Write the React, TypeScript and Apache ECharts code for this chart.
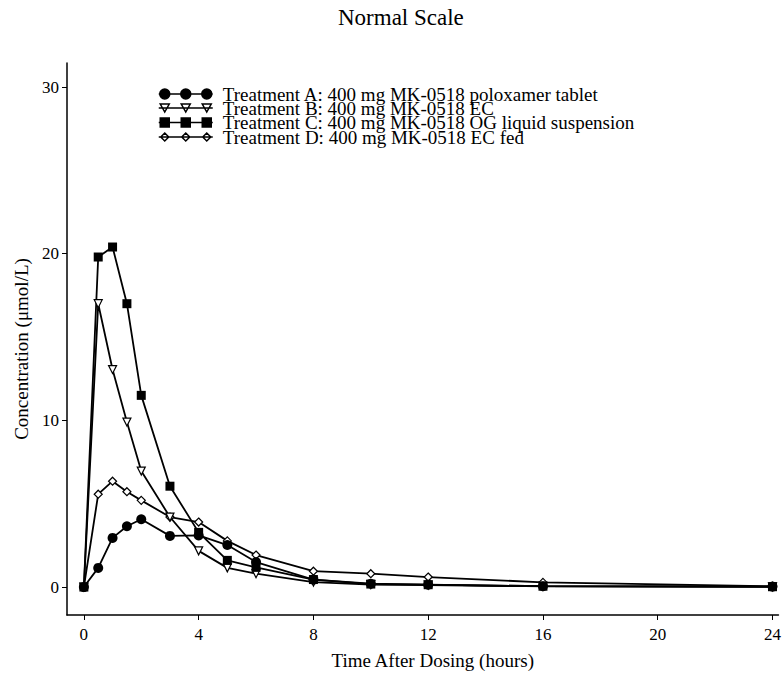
import React, { useEffect, useRef } from "react";
import * as echarts from "echarts";

const timeHours = [0, 0.5, 1, 1.5, 2, 3, 4, 5, 6, 8, 10, 12, 16, 24];
const treatmentA = [0, 1.15, 2.95, 3.65, 4.07, 3.07, 3.1, 2.52, 1.5, 0.45, 0.2, 0.14, 0.05, 0.03];
const treatmentB = [0, 17.0, 13.05, 9.9, 6.96, 4.2, 2.17, 1.15, 0.8, 0.3, 0.15, 0.12, 0.04, 0.01];
const treatmentC = [0, 19.8, 20.4, 17.0, 11.5, 6.05, 3.28, 1.6, 1.18, 0.45, 0.18, 0.14, 0.05, 0.02];
const treatmentD = [0, 5.57, 6.35, 5.72, 5.2, 4.2, 3.9, 2.77, 1.92, 0.95, 0.8, 0.6, 0.28, 0.05];

const seriesNames = [
  "Treatment A: 400 mg MK-0518 poloxamer tablet",
  "Treatment B: 400 mg MK-0518 EC",
  "Treatment C: 400 mg MK-0518 OG liquid suspension",
  "Treatment D: 400 mg MK-0518 EC fed",
];
const xTicks = [0, 4, 8, 12, 16, 20, 24];
const yTicks = [0, 10, 20, 30];

const FONT = "'Liberation Serif', 'DejaVu Serif', serif";

// legend icon paths (line with three markers), bbox 54 x 10
const circ = (cx: number) => `M${cx - 5} 5 A5 5 0 1 0 ${cx + 5} 5 A5 5 0 1 0 ${cx - 5} 5 Z`;
const tri = (cx: number) => `M${cx - 4.5} 1 L${cx + 4.5} 1 L${cx} 9 Z`;
const sq = (cx: number) => `M${cx - 4.5} 0.5 L${cx + 4.5} 0.5 L${cx + 4.5} 9.5 L${cx - 4.5} 9.5 Z`;
const dia = (cx: number) => `M${cx} 1 L${cx + 4} 5 L${cx} 9 L${cx - 4} 5 Z`;
const mk = (f: (c: number) => string) => `path://M0 5 L54 5 ${f(6)} ${f(27)} ${f(48)}`;
const legendIcons = [mk(circ), mk(tri), mk(sq), mk(dia)];
const legendFill = ["#000", "#fff", "#000", "#fff"];
const legendCenters = [94, 108, 122.5, 137];

export default function App() {
  const ref = useRef<HTMLDivElement>(null);
  useEffect(() => {
    if (!ref.current) return;
    const chart = echarts.init(ref.current, undefined, { renderer: "svg" });
    const pairs = (vals: number[]) => timeHours.map((t, i) => [t, vals[i]]);
    const lineStyle = { color: "#000", width: 1.8 };
    const option: any = {
      animation: false,
      backgroundColor: "#fff",
      title: {
        text: "Normal Scale",
        left: 338,
        top: 6,
        padding: 0,
        textStyle: { fontFamily: FONT, fontSize: 23, fontWeight: "normal", color: "#000" },
      },
      legend: seriesNames.map((n, i) => ({
        left: 158,
        top: legendCenters[i] - 10,
        padding: 0,
        itemWidth: 54,
        itemHeight: 10,
        selectedMode: false,
        textStyle: { fontFamily: FONT, fontSize: 19, color: "#000", padding: [0, 0, 0, 5], lineHeight: 20 },
        data: [
          {
            name: n,
            icon: legendIcons[i],
            itemStyle: { color: legendFill[i], borderColor: "#000", borderWidth: 1.5 },
          },
        ],
      })),
      grid: { left: 67, right: 0, top: 63, bottom: 59 },
      xAxis: {
        type: "value",
        min: -0.588,
        max: 24.207,
        name: "Time After Dosing (hours)",
        nameLocation: "middle",
        nameGap: 36,
        nameTextStyle: { fontFamily: FONT, fontSize: 19, color: "#000", padding: [0, 0, 0, 20] },
        splitLine: { show: false },
        axisLine: { onZero: false, lineStyle: { color: "#000", width: 1.5 } },
        axisTick: { show: true, length: 5, lineStyle: { color: "#000" }, customValues: xTicks },
        axisLabel: { fontFamily: FONT, fontSize: 17, color: "#000", margin: 11, customValues: xTicks },
      },
      yAxis: {
        type: "value",
        min: -1.677,
        max: 31.44,
        name: "Concentration (μmol/L)",
        nameLocation: "middle",
        nameGap: 35,
        nameRotate: 90,
        nameTextStyle: { fontFamily: FONT, fontSize: 19, color: "#000", padding: [0, 20, 0, 0] },
        splitLine: { show: false },
        axisLine: { show: true, onZero: false, lineStyle: { color: "#000", width: 1.5 } },
        axisTick: { show: true, length: 5, lineStyle: { color: "#000" }, customValues: yTicks },
        axisLabel: { fontFamily: FONT, fontSize: 17, color: "#000", margin: 8, customValues: yTicks },
      },
      series: [
        {
          name: seriesNames[3],
          type: "line",
          data: pairs(treatmentD),
          symbol: "diamond",
          symbolSize: 8,
          lineStyle,
          itemStyle: { color: "#fff", borderColor: "#000", borderWidth: 1.2 },
          clip: false,
        },
        {
          name: seriesNames[1],
          type: "line",
          data: pairs(treatmentB),
          symbol: "triangle",
          symbolRotate: 180,
          symbolSize: 8,
          lineStyle,
          itemStyle: { color: "#fff", borderColor: "#000", borderWidth: 1.2 },
          clip: false,
        },
        {
          name: seriesNames[2],
          type: "line",
          data: pairs(treatmentC),
          symbol: "rect",
          symbolSize: 9,
          lineStyle,
          itemStyle: { color: "#000" },
          clip: false,
        },
        {
          name: seriesNames[0],
          type: "line",
          data: pairs(treatmentA),
          symbol: "circle",
          symbolSize: 10,
          lineStyle,
          itemStyle: { color: "#000" },
          clip: false,
        },
      ],
    };
    chart.setOption(option);
    return () => chart.dispose();
  }, []);
  return <div ref={ref} style={{ width: 784, height: 675, position: "fixed", left: 0, top: 0 }} />;
}
